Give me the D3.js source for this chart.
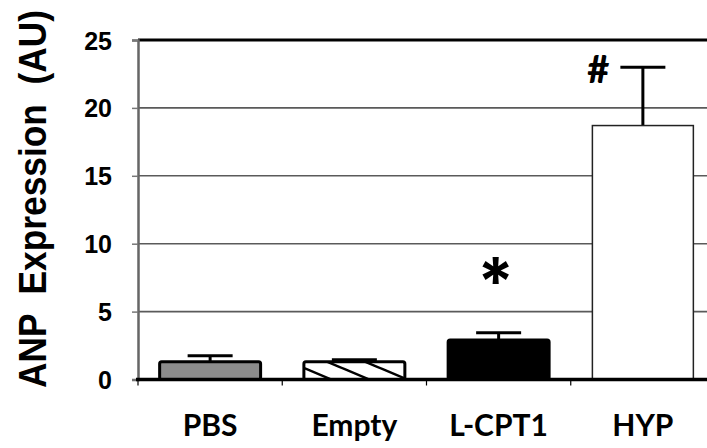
<!DOCTYPE html>
<html>
<head>
<meta charset="utf-8">
<script src="https://cdn.jsdelivr.net/npm/d3@7"></script>
<style>
  body { margin: 0; background: #fff; }
  svg { display: block; }
</style>
</head>
<body>
<svg id="chart" width="707" height="448"></svg>
<script>
// valeurs
var categories = ["PBS", "Empty", "L-CPT1", "HYP"];
var means = [1.3, 1.3, 2.9, 18.7];
var errors = [0.45, 0.15, 0.55, 4.3];
var marks = ["", "", "*", "#"];
var yTicks = [0, 5, 10, 15, 20, 25];

var svg = d3.select("#chart"),
    width = +svg.attr("width"),
    height = +svg.attr("height");

var plotLeft = 138, plotRight = 715, plotTop = 40, plotBottom = 379.5;

var x = d3.scaleBand().domain(categories).range([plotLeft, plotRight]).padding(0);
var y = d3.scaleLinear().domain([0, 25]).range([plotBottom, plotTop]);
var barW = x.bandwidth() * 0.70;

var data = categories.map(function(c, i) {
    return { name: c, mean: means[i], err: errors[i], mark: marks[i] };
});

// motif hachuré pour "Empty"
var defs = svg.append("defs");
defs.append("pattern")
    .attr("id", "hatch")
    .attr("patternUnits", "userSpaceOnUse")
    .attr("width", 38)
    .attr("height", 16)
  .append("path")
    .attr("d", "M-38,-16L76,32M-38,0L38,32M0,-16L76,16")
    .attr("stroke", "#000")
    .attr("stroke-width", 2.5);

// lignes de grille
svg.append("g")
    .selectAll("line")
    .data(yTicks.filter(function(d) { return d > 0 && d < 25; }))
    .enter().append("line")
    .attr("x1", plotLeft).attr("x2", plotRight)
    .attr("y1", function(d) { return y(d); })
    .attr("y2", function(d) { return y(d); })
    .attr("stroke", "#5a5a5a")
    .attr("stroke-width", 1.6);

// bordure haute (25)
svg.append("line")
    .attr("x1", plotLeft).attr("x2", plotRight)
    .attr("y1", y(25)).attr("y2", y(25))
    .attr("stroke", "#000").attr("stroke-width", 3);

// axe Y
var yAxis = svg.append("g")
    .attr("transform", "translate(" + plotLeft + ",0)")
    .call(d3.axisLeft(y).tickValues(yTicks).tickSize(6).tickPadding(20));
yAxis.select(".domain").attr("stroke", "#666").attr("stroke-width", 2.5);
yAxis.selectAll(".tick line").attr("stroke", "#777").attr("stroke-width", 1.5);
yAxis.selectAll(".tick text")
    .attr("font-family", "'Liberation Sans', Arial, sans-serif")
    .attr("font-weight", "bold")
    .attr("font-size", 25)
    .attr("fill", "#000")
    .attr("dy", "0.36em");

// barres
function fillFor(d) {
    if (d.name == "PBS") return "#8c8c8c";
    if (d.name == "Empty") return "url(#hatch)";
    if (d.name == "L-CPT1") return "#000";
    return "#fff";
}

// barres d'erreur (vers le haut seulement)
var eb = svg.append("g").selectAll("g")
    .data(data)
    .enter().append("g");
eb.append("line")
    .attr("x1", function(d) { return x(d.name) + x.bandwidth() / 2; })
    .attr("x2", function(d) { return x(d.name) + x.bandwidth() / 2; })
    .attr("y1", function(d) { return y(d.mean); })
    .attr("y2", function(d) { return y(d.mean + d.err); })
    .attr("stroke", "#000").attr("stroke-width", 3);
eb.append("line")
    .attr("x1", function(d) { return x(d.name) + x.bandwidth() / 2 - 22.5; })
    .attr("x2", function(d) { return x(d.name) + x.bandwidth() / 2 + 22.5; })
    .attr("y1", function(d) { return y(d.mean + d.err); })
    .attr("y2", function(d) { return y(d.mean + d.err); })
    .attr("stroke", "#000").attr("stroke-width", 3);

svg.append("g").selectAll("rect")
    .data(data)
    .enter().append("rect")
    .attr("x", function(d) { return x(d.name) + (x.bandwidth() - barW) / 2; })
    .attr("y", function(d) { return y(d.mean); })
    .attr("width", barW)
    .attr("height", function(d) { return y(0) - y(d.mean); })
    .attr("rx", function(d) { return d.name == "HYP" ? 0 : 2; })
    .attr("fill", fillFor)
    .attr("stroke", function(d) { return d.name == "HYP" ? "#222" : "#000"; })
    .attr("stroke-width", function(d) { return d.name == "HYP" ? 1.5 : 3; });

// axe X
svg.append("line")
    .attr("x1", plotLeft - 2).attr("x2", plotRight)
    .attr("y1", y(0)).attr("y2", y(0))
    .attr("stroke", "#000").attr("stroke-width", 3.5);
svg.append("g").selectAll("line")
    .data(categories)
    .enter().append("line")
    .attr("x1", function(d) { return x(d); })
    .attr("x2", function(d) { return x(d); })
    .attr("y1", y(0)).attr("y2", y(0) + 6)
    .attr("stroke", "#000").attr("stroke-width", 1.2);

svg.append("g").selectAll("text")
    .data(categories)
    .enter().append("text")
    .attr("x", function(d) { return x(d) + x.bandwidth() / 2; })
    .attr("y", 436)
    .attr("text-anchor", "middle")
    .attr("font-family", "Lato, 'Open Sans', sans-serif")
    .attr("font-weight", "bold")
    .attr("font-size", 30)
    .text(function(d) { return d; });

// marques de significativité
svg.append("text")
    .attr("x", x("L-CPT1") + x.bandwidth() / 2 - 3)
    .attr("y", y(5.5))
    .attr("text-anchor", "middle")
    .attr("font-family", "Inter, sans-serif")
    .attr("font-weight", "bold")
    .attr("font-size", 66)
    .text(marks[2]);
svg.append("text")
    .attr("x", x("HYP") + (x.bandwidth() - barW) / 2 + 6)
    .attr("y", y(21.8))
    .attr("text-anchor", "middle")
    .attr("font-family", "Lato, sans-serif")
    .attr("font-weight", 900)
    .attr("font-size", 38)
    .text(marks[3]);

// titre de l'axe Y
svg.append("text")
    .attr("transform", "translate(46,388) rotate(-90)")
    .attr("font-family", "'Liberation Sans', Arial, sans-serif")
    .attr("font-weight", "bold")
    .attr("font-size", 38)
    .attr("textLength", 378)
    .attr("lengthAdjust", "spacingAndGlyphs")
    .attr("xml:space", "preserve")
    .style("white-space", "pre")
    .text("ANP  Expression  (AU)");
</script>
</body>
</html>
